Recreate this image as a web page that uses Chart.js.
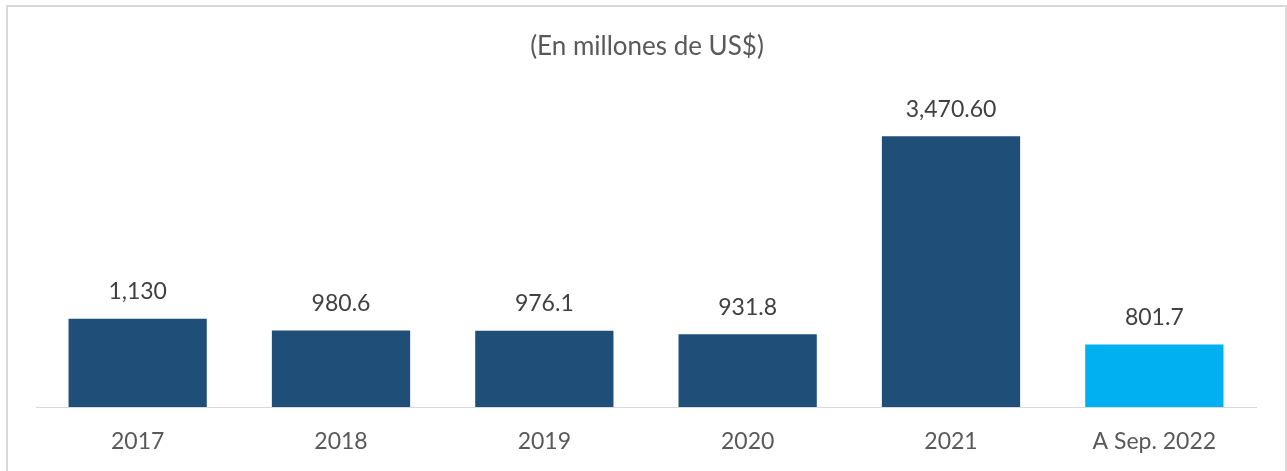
<!DOCTYPE html>
<html>
<head>
<meta charset="utf-8">
<script src="https://cdn.jsdelivr.net/npm/chart.js@4/dist/chart.umd.min.js"></script>
<style>
  html, body { margin: 0; padding: 0; background: #fff; overflow: hidden; }
  #wrap { position: relative; width: 1287px; height: 471px; }
  #frame { position: absolute; left: 6px; top: 5px; width: 1277px; height: 480px; border: 2px solid #D9D9D9; }
  canvas { position: absolute; left: 0; top: 0; }
</style>
</head>
<body>
<div id="wrap">
  <div id="frame"></div>
  <canvas id="chart" width="1287" height="471"></canvas>
</div>
<script>
var categories = ["2017", "2018", "2019", "2020", "2021", "A Sep. 2022"];
var values = [1130, 980.6, 976.1, 931.8, 3470.6, 801.7];
var valueLabels = ["1,130", "980.6", "976.1", "931.8", "3,470.60", "801.7"];
var barColors = ["#1F4E79", "#1F4E79", "#1F4E79", "#1F4E79", "#1F4E79", "#00B0F0"];
var titleText = "(En millones de US$)";
var fontFamily = "Lato, 'Open Sans', sans-serif";

var labelsPlugin = {
    id: "labels",
    afterDatasetsDraw: function(chart) {
        var ctx = chart.ctx;
        var meta = chart.getDatasetMeta(0);
        ctx.save();
        ctx.font = "23px " + fontFamily;
        ctx.fillStyle = "#404040";
        ctx.textAlign = "center";
        ctx.textBaseline = "middle";
        meta.data.forEach(function(bar, i) {
            ctx.fillText(valueLabels[i], bar.x, bar.y - 27);
        });
        ctx.font = "26px " + fontFamily;
        ctx.fillStyle = "#595959";
        ctx.fillText(titleText, 647, 47);
        ctx.restore();
    }
};

var ctx = document.getElementById("chart");
var __chart__ = new Chart(ctx, {
    type: 'bar',
    data: {
        labels: categories,
        datasets: [{
            data: values,
            backgroundColor: barColors,
            categoryPercentage: 1,
            barPercentage: 0.68
        }]
    },
    options: {
        responsive: false,
        animation: false,
        layout: { padding: { left: 36, right: 31, top: 95, bottom: 0 } },
        plugins: {
            legend: { display: false },
            tooltip: { enabled: false }
        },
        scales: {
            x: {
                afterFit: function(scale) { scale.height = 64; },
                grid: { display: false, drawTicks: false },
                border: { display: true, color: "#D9D9D9", width: 1 },
                ticks: {
                    padding: 21,
                    color: "#595959",
                    font: { size: 23, family: fontFamily }
                }
            },
            y: {
                display: false,
                min: 0,
                max: 4000
            }
        }
    },
    plugins: [labelsPlugin]
});
</script>
</body>
</html>
